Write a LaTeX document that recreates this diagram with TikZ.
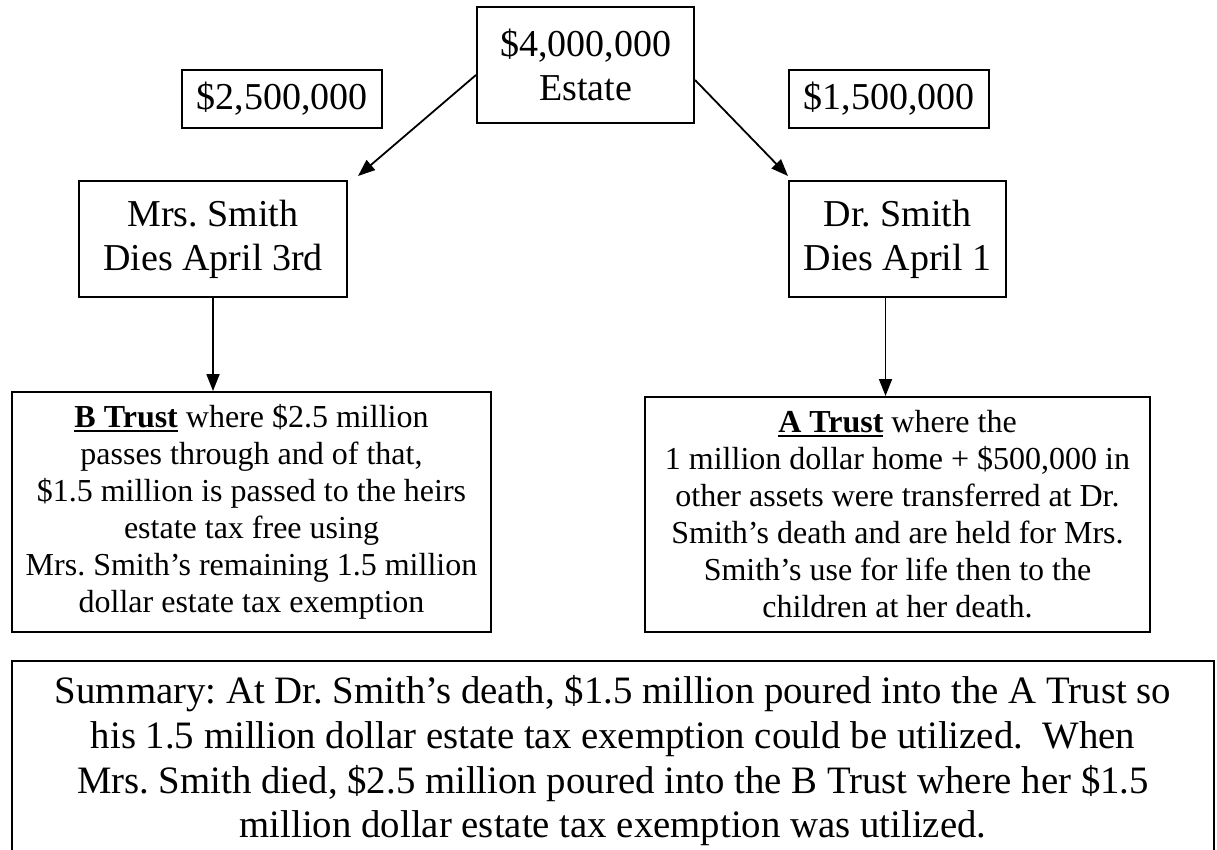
\documentclass[tikz,border=0pt]{standalone}
\usepackage{fontspec}
\setmainfont{Liberation Serif}
\usetikzlibrary{arrows.meta}
\newcommand\ulbold[1]{\setbox0\hbox{\textbf{#1}}\rlap{\rule[-4pt]{\wd0}{2pt}}\box0\relax}
\begin{document}
\frenchspacing
\begin{tikzpicture}[x=1pt,y=-1pt,
  box/.style={draw,line width=2pt,inner sep=0pt,align=center},
  big/.style={font=\frenchspacing\fontsize{38}{44}\selectfont},
  mid/.style={font=\frenchspacing\fontsize{32}{37}\selectfont},
  arr/.style={line width=1.8pt,-{Triangle[length=17pt,width=13pt]}}]
\useasboundingbox (0,0) rectangle (1217,850);
\clip (0,0) rectangle (1217,850);

\node[box,big,minimum width=217pt,minimum height=116pt] (estate) at (585.5,65) {\$4,000,000\\Estate};
\node[box,big,minimum width=200pt,minimum height=58pt] (b25) at (282,99) {\$2,500,000};
\node[box,big,minimum width=200pt,minimum height=58pt] (b15) at (889,99) {\$1,500,000};
\node[box,big,minimum width=268pt,minimum height=116pt] (mrs) at (213,239) {Mrs. Smith\\Dies April 3rd};
\node[box,big,minimum width=217pt,minimum height=116pt] (dr) at (897.5,239) {Dr. Smith\\Dies April 1};

\node[box,mid,minimum width=479pt,minimum height=240pt] (btr) at (251.5,512)
 {\ulbold{B Trust} where \$2.5 million\\passes through and of that,\\\$1.5 million is passed to the heirs\\estate tax free using\\Mrs. Smith’s remaining 1.5 million\\dollar estate tax exemption};
\node[box,mid,minimum width=505pt,minimum height=235pt] (atr) at (897.5,514.5)
 {\ulbold{A Trust} where the\\1 million dollar home + \$500,000 in\\other assets were transferred at Dr.\\Smith’s death and are held for Mrs.\\Smith’s use for life then to the\\children at her death.};

\node[box,font=\frenchspacing\fontsize{38.8}{44.7}\selectfont,minimum width=1202pt,minimum height=200pt] (sum) at (613,761)
 {Summary: At Dr. Smith’s death, \$1.5 million poured into the A Trust so\\his 1.5 million dollar estate tax exemption could be utilized.\ \ When\\Mrs. Smith died, \$2.5 million poured into the B Trust where her \$1.5\\million dollar estate tax exemption was utilized.};

\coordinate (mtip) at (358,176);
\coordinate (dtip) at (788,176);
\draw[arr] ([yshift=-10pt]estate.west) -- (mtip);
\draw[arr] ([yshift=-15pt]estate.east) -- (dtip);
\draw[arr] (mrs.south) -- (mrs.south |- btr.north);
\draw[arr] ([xshift=-12pt]dr.south) -- ([xshift=-12pt]dr.south |- atr.north);
\end{tikzpicture}
\end{document}
